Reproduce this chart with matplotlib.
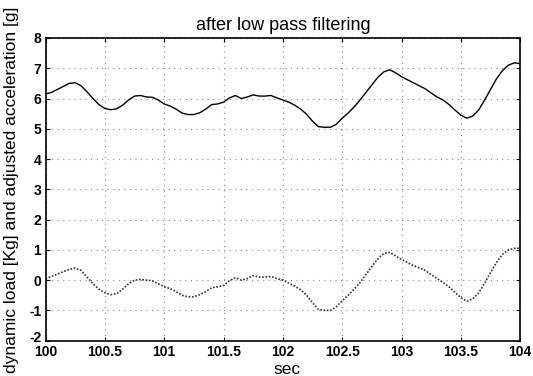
import matplotlib.pyplot as plt
import matplotlib.transforms as mtransforms
import numpy as np

# time axis [sec] and the two traces
t = [100.0, 100.05, 100.1, 100.15, 100.2, 100.25, 100.3, 100.35, 100.4, 100.45,
     100.5, 100.55, 100.6, 100.65, 100.7, 100.75, 100.8, 100.85, 100.9, 100.95,
     101.0, 101.05, 101.1, 101.15, 101.2, 101.25, 101.3, 101.35, 101.4, 101.45,
     101.5, 101.55, 101.6, 101.65, 101.7, 101.75, 101.8, 101.85, 101.9, 101.95,
     102.0, 102.05, 102.1, 102.15, 102.2, 102.25, 102.3, 102.35, 102.4, 102.45,
     102.5, 102.55, 102.6, 102.65, 102.7, 102.75, 102.8, 102.85, 102.9, 102.95,
     103.0, 103.05, 103.1, 103.15, 103.2, 103.25, 103.3, 103.35, 103.4, 103.45,
     103.5, 103.55, 103.6, 103.65, 103.7, 103.75, 103.8, 103.85, 103.9, 103.95,
     104.0]

accel = [6.15, 6.2, 6.3, 6.4, 6.5, 6.52, 6.42, 6.22, 6.0, 5.8,
         5.67, 5.63, 5.66, 5.78, 5.95, 6.08, 6.1, 6.05, 6.04, 5.95,
         5.82, 5.75, 5.65, 5.52, 5.47, 5.47, 5.53, 5.65, 5.8, 5.82,
         5.88, 6.02, 6.1, 6.0, 6.05, 6.12, 6.08, 6.08, 6.1, 6.02,
         5.95, 5.88, 5.78, 5.65, 5.48, 5.25, 5.07, 5.05, 5.05, 5.15,
         5.35, 5.52, 5.72, 5.95, 6.2, 6.45, 6.7, 6.88, 6.95, 6.85,
         6.72, 6.62, 6.52, 6.42, 6.32, 6.18, 6.05, 5.95, 5.8, 5.62,
         5.45, 5.35, 5.42, 5.62, 5.95, 6.3, 6.65, 6.92, 7.1, 7.18,
         7.15]

load = [0.05, 0.12, 0.2, 0.28, 0.35, 0.4, 0.32, 0.1, -0.12, -0.3,
        -0.42, -0.48, -0.45, -0.3, -0.12, 0.0, 0.02, 0.0, -0.02, -0.12,
        -0.22, -0.28, -0.38, -0.5, -0.55, -0.55, -0.48, -0.38, -0.25, -0.22,
        -0.18, -0.02, 0.08, 0.0, 0.05, 0.15, 0.1, 0.1, 0.12, 0.05,
        0.0, -0.1, -0.2, -0.32, -0.5, -0.75, -0.97, -1.0, -1.0, -0.88,
        -0.68, -0.5, -0.3, -0.08, 0.18, 0.45, 0.7, 0.88, 0.92, 0.8,
        0.68, 0.58, 0.48, 0.4, 0.32, 0.18, 0.05, -0.08, -0.22, -0.4,
        -0.58, -0.7, -0.62, -0.42, -0.1, 0.25, 0.58, 0.85, 1.0, 1.05,
        1.05]

xticks = [100, 100.5, 101, 101.5, 102, 102.5, 103, 103.5, 104]
xticklabels = ['100', '100.5', '101', '101.5', '102', '102.5', '103', '103.5', '104']
yticks = [-2, -1, 0, 1, 2, 3, 4, 5, 6, 7, 8]
yticklabels = ['-2', '-1', '0', '1', '2', '3', '4', '5', '6', '7', '8']

plt.rcParams['font.family'] = ['Liberation Sans', 'DejaVu Sans']

fig = plt.figure(figsize=(5.33, 3.76), dpi=100)
ax = fig.add_axes([0.0854, 0.094, 0.8906, 0.805])

ax.plot(t, accel, color='black', linewidth=1.0)
ax.plot(t, load, color='#333333', linewidth=1.2, linestyle=(0, (1, 1)))

ax.set_xlim(100, 104)
ax.set_ylim(-2, 8)
ax.set_xticks(xticks)
ax.set_xticklabels(xticklabels)
ax.set_yticks(yticks)
ax.set_yticklabels(yticklabels)
ax.tick_params(direction='in', length=3, labelsize=10)
ax.tick_params(axis='x', pad=3)
ax.tick_params(axis='y', pad=3)
for lbl in ax.get_xticklabels() + ax.get_yticklabels():
    lbl.set_fontweight('bold')
ax.tick_params(top=True, right=True)
ax.grid(True, color='#888888', linestyle=(0, (1, 4)), linewidth=0.8)
for s in ax.spines.values():
    s.set_linewidth(1.2)

# lowest y label sits a little high, as in the original
lowest = ax.get_yticklabels()[0]
lowest.set_transform(lowest.get_transform() +
                     mtransforms.ScaledTranslation(0, 3 / 72, fig.dpi_scale_trans))

ax.set_title('after low pass filtering', fontsize=13, pad=6)
ax.set_xlabel('sec', fontsize=12.5)
ax.xaxis.set_label_coords(0.508, -0.07)
ax.set_ylabel('dynamic load [Kg] and adjusted acceleration [g]', fontsize=12.5)
ax.yaxis.set_label_coords(-0.055, 0.5)

fig.savefig('out.png', dpi=100)
